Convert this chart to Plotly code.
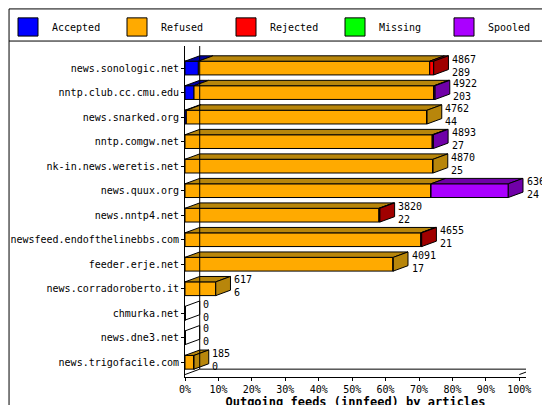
import plotly.graph_objects as go

SERVERS = ["news.sonologic.net", "nntp.club.cc.cmu.edu", "news.snarked.org", "nntp.comgw.net",
           "nk-in.news.weretis.net", "news.quux.org", "news.nntp4.net", "newsfeed.endofthelinebbs.com",
           "feeder.erje.net", "news.corradoroberto.it", "chmurka.net", "news.dne3.net", "news.trigofacile.com"]
TOTAL = [4867, 4922, 4762, 4893, 4870, 6364, 3820, 4655, 4091, 617, 0, 0, 185]
CONNS = [289, 203, 44, 27, 25, 24, 22, 21, 17, 6, 0, 0, 0]
# share of the scale (%) per status
ACCEPTED = [4.0, 2.7, 0.4, 0, 0, 0, 0, 0, 0, 0, 0, 0, 0]
REFUSED = [69.2, 71.8, 72.0, 74.0, 74.2, 73.6, 58.0, 70.5, 62.3, 9.2, 0, 0, 2.7]
REJECTED = [1.2, 0, 0, 0, 0, 0, 0.3, 0.3, 0, 0, 0, 0, 0]
MISSING = [0] * 13
SPOOLED = [0, 0.3, 0, 0.3, 0, 23.1, 0, 0, 0, 0, 0, 0, 0]

SERIES = [("Accepted", ACCEPTED, "#0000ff", "#0000a0"),
          ("Refused", REFUSED, "#ffaa00", "#b8860b"),
          ("Rejected", REJECTED, "#ff0000", "#a00000"),
          ("Missing", MISSING, "#00ff00", "#00a000"),
          ("Spooled", SPOOLED, "#aa00ff", "#7000a8")]

DX, DY, H = 4.4, 0.22, 0.56
FONT = "DejaVu Sans Mono"

fig = go.Figure()
ys = list(range(len(SERVERS)))
base = [0.0] * len(SERVERS)
ends = [None] * len(SERVERS)
for name, vals, col, dark in SERIES:
    fig.add_trace(go.Bar(y=ys, x=vals, base=base[:], orientation="h", width=H, name=name, showlegend=False,
                         marker=dict(color=col, line=dict(color="black", width=1))))
    for i, v in enumerate(vals):
        if v <= 0:
            continue
        x0, x1, top = base[i], base[i] + v, i - H / 2
        fig.add_trace(go.Scatter(x=[x0, x1, x1 + DX, x0 + DX, x0], y=[top, top, top - DY, top - DY, top],
                                 fill="toself", fillcolor=dark, mode="lines",
                                 line=dict(color="black", width=1), showlegend=False, hoverinfo="skip"))
        base[i] = x1
        ends[i] = dark
for i in ys:
    x1 = base[i]
    top, bot = i - H / 2, i + H / 2
    fig.add_trace(go.Scatter(x=[x1, x1 + DX, x1 + DX, x1, x1], y=[top, top - DY, bot - DY, bot, top],
                             fill="toself" if ends[i] else None, fillcolor=ends[i], mode="lines",
                             line=dict(color="black", width=1), showlegend=False, hoverinfo="skip"))
    fig.add_annotation(x=x1 + DX + 0.5, y=i - 0.1, text=f"{TOTAL[i]}<br>{CONNS[i]}", showarrow=False,
                       xanchor="left", yanchor="middle", align="left",
                       font=dict(family=FONT, size=10, color="black"))

# back wall and floor
n = len(SERVERS)
yb = n - 0.5
for xs, yv in [([DX, DX], [-0.9, yb - DY]), ([100 + DX, 100 + DX], [-0.9, yb - DY]),
               ([0, DX, 100 + DX, 100], [yb, yb - DY, yb - DY, yb])]:
    fig.add_trace(go.Scatter(x=xs, y=yv, mode="lines", line=dict(color="black", width=1),
                             showlegend=False, hoverinfo="skip"))

# hand-made legend row across the top
shapes = [dict(type="rect", xref="paper", yref="paper", x0=-0.516, x1=1.091, y0=-0.106, y1=1.112,
               line=dict(color="black", width=1)),
          dict(type="line", xref="paper", yref="paper", x0=-0.516, x1=1.091, y0=1.015, y1=1.015,
               line=dict(color="black", width=1))]
for k, (name, vals, col, dark) in enumerate(SERIES):
    px0 = 10 + k * 109
    fx0 = (px0 - 177) / 341
    fx1 = (px0 + 20 - 177) / 341
    shapes.append(dict(type="rect", xref="paper", yref="paper", x0=fx0, x1=fx1, y0=1.03, y1=1.085,
                       fillcolor=col, line=dict(color="black", width=1)))
    fig.add_annotation(xref="paper", yref="paper", x=(px0 + 32 - 177) / 341, y=1.057, text=name,
                       showarrow=False, xanchor="left", yanchor="middle", font=dict(family=FONT, size=10))

fig.update_layout(
    width=550, height=405, barmode="overlay", plot_bgcolor="white", paper_bgcolor="white",
    margin=dict(l=177, r=32, t=38, b=36, autoexpand=False), showlegend=False,
    font=dict(family=FONT, size=10, color="black"),
    xaxis=dict(range=[0, 102], tickvals=list(range(0, 101, 10)), ticktext=[f"{v}%" for v in range(0, 101, 10)],
               showgrid=False, zeroline=False, showline=True, linecolor="black", ticks="outside",
               tickcolor="black", ticklen=3, automargin=False,
               title=dict(text="<b>Outgoing feeds (innfeed) by articles</b>", standoff=2)),
    yaxis=dict(range=[n - 0.4, -0.9], tickvals=ys, ticktext=SERVERS, showgrid=False, zeroline=False,
               showline=True, linecolor="black", ticks="outside", tickcolor="black", ticklen=3,
               automargin=False, tickfont=dict(size=10)),
    shapes=shapes,
)
fig.write_html("out.html")
